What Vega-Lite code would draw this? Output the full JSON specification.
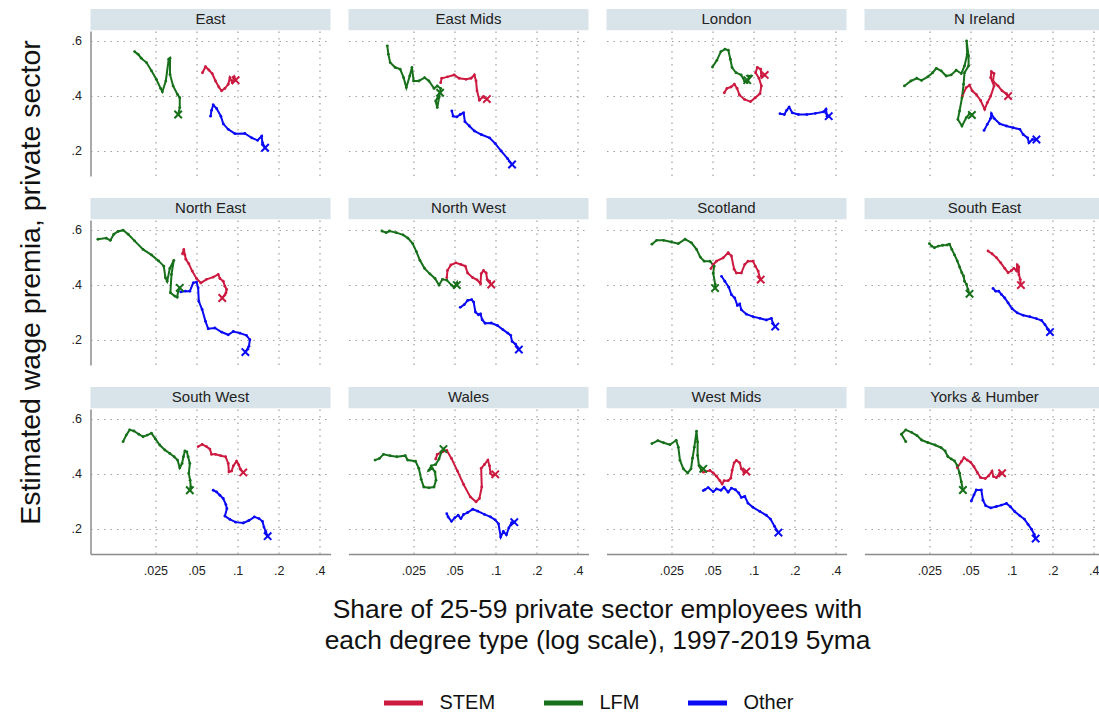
{
"$schema": "https://vega.github.io/schema/vega-lite/v6.json",
"padding": {"left": 16.5, "top": 8, "right": 2, "bottom": 2},
"background": "white",
"title": {"text": "Estimated wage premia, private sector", "orient": "left", "anchor": "middle", "fontSize": 28.5, "fontWeight": "normal", "color": "#111", "offset": 26, "dx": 78},
"config": {
  "font": "Liberation Sans",
  "view": {"stroke": null},
  "axis": {"ticks": false, "domainColor": "#8c8c8c", "domainWidth": 1.5, "gridColor": "#a0a0a0", "gridDash": [1.5, 5], "gridWidth": 1.2, "labelFontSize": 12.5, "labelColor": "#222", "titleFontWeight": "normal", "titleColor": "#111", "labelPadding": 9, "labelFlush": false},
  "legend": {"layout": {"bottom": {"anchor": "middle"}}}
},
"data": {"values": [
{"r":"East","t":"STEM","i":1,"x":0.0553,"y":0.484},{"r":"East","t":"STEM","i":2,"x":0.0582,"y":0.506},{"r":"East","t":"STEM","i":3,"x":0.0616,"y":0.494},{"r":"East","t":"STEM","i":4,"x":0.0652,"y":0.481},{"r":"East","t":"STEM","i":5,"x":0.0689,"y":0.454},{"r":"East","t":"STEM","i":6,"x":0.0729,"y":0.432},{"r":"East","t":"STEM","i":7,"x":0.0763,"y":0.418},{"r":"East","t":"STEM","i":8,"x":0.0807,"y":0.427},{"r":"East","t":"STEM","i":9,"x":0.0854,"y":0.442},{"r":"East","t":"STEM","i":10,"x":0.0878,"y":0.466},{"r":"East","t":"STEM","i":11,"x":0.0914,"y":0.448},{"r":"East","t":"STEM","i":12,"x":0.0945,"y":0.469},{"r":"East","t":"STEM","i":13,"x":0.0967,"y":0.457},
{"r":"East","t":"LFM","i":1,"x":0.0176,"y":0.561},{"r":"East","t":"LFM","i":2,"x":0.0187,"y":0.551},{"r":"East","t":"LFM","i":3,"x":0.0197,"y":0.537},{"r":"East","t":"LFM","i":4,"x":0.0215,"y":0.521},{"r":"East","t":"LFM","i":5,"x":0.0234,"y":0.491},{"r":"East","t":"LFM","i":6,"x":0.0254,"y":0.46},{"r":"East","t":"LFM","i":7,"x":0.0273,"y":0.427},{"r":"East","t":"LFM","i":8,"x":0.0281,"y":0.415},{"r":"East","t":"LFM","i":9,"x":0.0298,"y":0.454},{"r":"East","t":"LFM","i":10,"x":0.0313,"y":0.533},{"r":"East","t":"LFM","i":11,"x":0.032,"y":0.537},{"r":"East","t":"LFM","i":12,"x":0.032,"y":0.478},{"r":"East","t":"LFM","i":13,"x":0.0337,"y":0.436},{"r":"East","t":"LFM","i":14,"x":0.0363,"y":0.405},{"r":"East","t":"LFM","i":15,"x":0.0377,"y":0.393},{"r":"East","t":"LFM","i":16,"x":0.0377,"y":0.357},{"r":"East","t":"LFM","i":17,"x":0.0367,"y":0.332},
{"r":"East","t":"Other","i":1,"x":0.0634,"y":0.326},{"r":"East","t":"Other","i":2,"x":0.0644,"y":0.347},{"r":"East","t":"Other","i":3,"x":0.0663,"y":0.367},{"r":"East","t":"Other","i":4,"x":0.0701,"y":0.354},{"r":"East","t":"Other","i":5,"x":0.0754,"y":0.326},{"r":"East","t":"Other","i":6,"x":0.0785,"y":0.298},{"r":"East","t":"Other","i":7,"x":0.0854,"y":0.278},{"r":"East","t":"Other","i":8,"x":0.0956,"y":0.262},{"r":"East","t":"Other","i":9,"x":0.113,"y":0.263},{"r":"East","t":"Other","i":10,"x":0.127,"y":0.247},{"r":"East","t":"Other","i":11,"x":0.14,"y":0.238},{"r":"East","t":"Other","i":12,"x":0.15,"y":0.253},{"r":"East","t":"Other","i":13,"x":0.152,"y":0.229},{"r":"East","t":"Other","i":14,"x":0.159,"y":0.211},
{"r":"East Mids","t":"STEM","i":1,"x":0.0396,"y":0.448},{"r":"East Mids","t":"STEM","i":2,"x":0.0403,"y":0.464},{"r":"East Mids","t":"STEM","i":3,"x":0.0444,"y":0.469},{"r":"East Mids","t":"STEM","i":4,"x":0.0497,"y":0.476},{"r":"East Mids","t":"STEM","i":5,"x":0.0541,"y":0.464},{"r":"East Mids","t":"STEM","i":6,"x":0.0607,"y":0.46},{"r":"East Mids","t":"STEM","i":7,"x":0.0661,"y":0.464},{"r":"East Mids","t":"STEM","i":8,"x":0.0699,"y":0.476},{"r":"East Mids","t":"STEM","i":9,"x":0.0719,"y":0.454},{"r":"East Mids","t":"STEM","i":10,"x":0.0731,"y":0.418},{"r":"East Mids","t":"STEM","i":11,"x":0.0761,"y":0.384},{"r":"East Mids","t":"STEM","i":12,"x":0.0806,"y":0.396},{"r":"East Mids","t":"STEM","i":13,"x":0.0863,"y":0.388},
{"r":"East Mids","t":"LFM","i":1,"x":0.0161,"y":0.582},{"r":"East Mids","t":"LFM","i":2,"x":0.0164,"y":0.551},{"r":"East Mids","t":"LFM","i":3,"x":0.0169,"y":0.521},{"r":"East Mids","t":"LFM","i":4,"x":0.0184,"y":0.503},{"r":"East Mids","t":"LFM","i":5,"x":0.02,"y":0.497},{"r":"East Mids","t":"LFM","i":6,"x":0.0212,"y":0.466},{"r":"East Mids","t":"LFM","i":7,"x":0.0222,"y":0.43},{"r":"East Mids","t":"LFM","i":8,"x":0.0235,"y":0.472},{"r":"East Mids","t":"LFM","i":9,"x":0.0244,"y":0.503},{"r":"East Mids","t":"LFM","i":10,"x":0.0251,"y":0.454},{"r":"East Mids","t":"LFM","i":11,"x":0.0274,"y":0.454},{"r":"East Mids","t":"LFM","i":12,"x":0.0302,"y":0.466},{"r":"East Mids","t":"LFM","i":13,"x":0.0325,"y":0.454},{"r":"East Mids","t":"LFM","i":14,"x":0.0354,"y":0.427},{"r":"East Mids","t":"LFM","i":15,"x":0.0374,"y":0.436},{"r":"East Mids","t":"LFM","i":16,"x":0.0396,"y":0.427},{"r":"East Mids","t":"LFM","i":17,"x":0.0385,"y":0.393},{"r":"East Mids","t":"LFM","i":18,"x":0.0374,"y":0.357},{"r":"East Mids","t":"LFM","i":19,"x":0.0364,"y":0.381},{"r":"East Mids","t":"LFM","i":20,"x":0.0392,"y":0.411},
{"r":"East Mids","t":"Other","i":1,"x":0.0478,"y":0.345},{"r":"East Mids","t":"Other","i":2,"x":0.0489,"y":0.326},{"r":"East Mids","t":"Other","i":3,"x":0.052,"y":0.323},{"r":"East Mids","t":"Other","i":4,"x":0.0551,"y":0.332},{"r":"East Mids","t":"Other","i":5,"x":0.0583,"y":0.338},{"r":"East Mids","t":"Other","i":6,"x":0.0596,"y":0.306},{"r":"East Mids","t":"Other","i":7,"x":0.0642,"y":0.29},{"r":"East Mids","t":"Other","i":8,"x":0.0699,"y":0.272},{"r":"East Mids","t":"Other","i":9,"x":0.0784,"y":0.259},{"r":"East Mids","t":"Other","i":10,"x":0.0903,"y":0.247},{"r":"East Mids","t":"Other","i":11,"x":0.0994,"y":0.226},{"r":"East Mids","t":"Other","i":12,"x":0.11,"y":0.199},{"r":"East Mids","t":"Other","i":13,"x":0.122,"y":0.172},{"r":"East Mids","t":"Other","i":14,"x":0.132,"y":0.15},
{"r":"London","t":"STEM","i":1,"x":0.061,"y":0.411},{"r":"London","t":"STEM","i":2,"x":0.0638,"y":0.427},{"r":"London","t":"STEM","i":3,"x":0.0683,"y":0.432},{"r":"London","t":"STEM","i":4,"x":0.0723,"y":0.442},{"r":"London","t":"STEM","i":5,"x":0.0757,"y":0.427},{"r":"London","t":"STEM","i":6,"x":0.0788,"y":0.403},{"r":"London","t":"STEM","i":7,"x":0.0858,"y":0.387},{"r":"London","t":"STEM","i":8,"x":0.095,"y":0.379},{"r":"London","t":"STEM","i":9,"x":0.1029,"y":0.393},{"r":"London","t":"STEM","i":10,"x":0.1114,"y":0.408},{"r":"London","t":"STEM","i":11,"x":0.114,"y":0.436},{"r":"London","t":"STEM","i":12,"x":0.1095,"y":0.464},{"r":"London","t":"STEM","i":13,"x":0.1034,"y":0.484},{"r":"London","t":"STEM","i":14,"x":0.1065,"y":0.503},{"r":"London","t":"STEM","i":15,"x":0.1127,"y":0.497},{"r":"London","t":"STEM","i":16,"x":0.114,"y":0.472},{"r":"London","t":"STEM","i":17,"x":0.1206,"y":0.476},
{"r":"London","t":"LFM","i":1,"x":0.05,"y":0.505},{"r":"London","t":"LFM","i":2,"x":0.0538,"y":0.529},{"r":"London","t":"LFM","i":3,"x":0.0576,"y":0.561},{"r":"London","t":"LFM","i":4,"x":0.0617,"y":0.57},{"r":"London","t":"LFM","i":5,"x":0.0653,"y":0.566},{"r":"London","t":"LFM","i":6,"x":0.0676,"y":0.533},{"r":"London","t":"LFM","i":7,"x":0.0695,"y":0.503},{"r":"London","t":"LFM","i":8,"x":0.0744,"y":0.484},{"r":"London","t":"LFM","i":9,"x":0.081,"y":0.476},{"r":"London","t":"LFM","i":10,"x":0.0858,"y":0.454},{"r":"London","t":"LFM","i":11,"x":0.0898,"y":0.448},{"r":"London","t":"LFM","i":12,"x":0.0934,"y":0.466},{"r":"London","t":"LFM","i":13,"x":0.0908,"y":0.472},{"r":"London","t":"LFM","i":14,"x":0.0961,"y":0.472},{"r":"London","t":"LFM","i":15,"x":0.0898,"y":0.457},
{"r":"London","t":"Other","i":1,"x":0.156,"y":0.335},{"r":"London","t":"Other","i":2,"x":0.168,"y":0.332},{"r":"London","t":"Other","i":3,"x":0.1745,"y":0.347},{"r":"London","t":"Other","i":4,"x":0.182,"y":0.359},{"r":"London","t":"Other","i":5,"x":0.192,"y":0.338},{"r":"London","t":"Other","i":6,"x":0.213,"y":0.332},{"r":"London","t":"Other","i":7,"x":0.245,"y":0.332},{"r":"London","t":"Other","i":8,"x":0.283,"y":0.336},{"r":"London","t":"Other","i":9,"x":0.326,"y":0.342},{"r":"London","t":"Other","i":10,"x":0.339,"y":0.351},{"r":"London","t":"Other","i":11,"x":0.345,"y":0.326},{"r":"London","t":"Other","i":12,"x":0.355,"y":0.326},
{"r":"N Ireland","t":"STEM","i":1,"x":0.0435,"y":0.399},{"r":"N Ireland","t":"STEM","i":2,"x":0.0465,"y":0.43},{"r":"N Ireland","t":"STEM","i":3,"x":0.0492,"y":0.439},{"r":"N Ireland","t":"STEM","i":4,"x":0.0515,"y":0.418},{"r":"N Ireland","t":"STEM","i":5,"x":0.0551,"y":0.405},{"r":"N Ireland","t":"STEM","i":6,"x":0.0593,"y":0.383},{"r":"N Ireland","t":"STEM","i":7,"x":0.0635,"y":0.351},{"r":"N Ireland","t":"STEM","i":8,"x":0.0664,"y":0.375},{"r":"N Ireland","t":"STEM","i":9,"x":0.0703,"y":0.399},{"r":"N Ireland","t":"STEM","i":10,"x":0.0744,"y":0.436},{"r":"N Ireland","t":"STEM","i":11,"x":0.0703,"y":0.466},{"r":"N Ireland","t":"STEM","i":12,"x":0.0711,"y":0.488},{"r":"N Ireland","t":"STEM","i":13,"x":0.0744,"y":0.481},{"r":"N Ireland","t":"STEM","i":14,"x":0.0731,"y":0.454},{"r":"N Ireland","t":"STEM","i":15,"x":0.0796,"y":0.436},{"r":"N Ireland","t":"STEM","i":16,"x":0.0852,"y":0.418},{"r":"N Ireland","t":"STEM","i":17,"x":0.0917,"y":0.408},{"r":"N Ireland","t":"STEM","i":18,"x":0.0943,"y":0.399},
{"r":"N Ireland","t":"LFM","i":1,"x":0.0164,"y":0.436},{"r":"N Ireland","t":"LFM","i":2,"x":0.0183,"y":0.454},{"r":"N Ireland","t":"LFM","i":3,"x":0.0202,"y":0.464},{"r":"N Ireland","t":"LFM","i":4,"x":0.0219,"y":0.456},{"r":"N Ireland","t":"LFM","i":5,"x":0.0243,"y":0.469},{"r":"N Ireland","t":"LFM","i":6,"x":0.0264,"y":0.484},{"r":"N Ireland","t":"LFM","i":7,"x":0.0281,"y":0.5},{"r":"N Ireland","t":"LFM","i":8,"x":0.0305,"y":0.491},{"r":"N Ireland","t":"LFM","i":9,"x":0.0332,"y":0.472},{"r":"N Ireland","t":"LFM","i":10,"x":0.0361,"y":0.476},{"r":"N Ireland","t":"LFM","i":11,"x":0.0393,"y":0.493},{"r":"N Ireland","t":"LFM","i":12,"x":0.0428,"y":0.481},{"r":"N Ireland","t":"LFM","i":13,"x":0.0452,"y":0.509},{"r":"N Ireland","t":"LFM","i":14,"x":0.0473,"y":0.551},{"r":"N Ireland","t":"LFM","i":15,"x":0.0468,"y":0.6},{"r":"N Ireland","t":"LFM","i":16,"x":0.0484,"y":0.545},{"r":"N Ireland","t":"LFM","i":17,"x":0.0484,"y":0.509},{"r":"N Ireland","t":"LFM","i":18,"x":0.0452,"y":0.484},{"r":"N Ireland","t":"LFM","i":19,"x":0.0445,"y":0.442},{"r":"N Ireland","t":"LFM","i":20,"x":0.0433,"y":0.393},{"r":"N Ireland","t":"LFM","i":21,"x":0.0416,"y":0.345},{"r":"N Ireland","t":"LFM","i":22,"x":0.0404,"y":0.314},{"r":"N Ireland","t":"LFM","i":23,"x":0.0433,"y":0.29},{"r":"N Ireland","t":"LFM","i":24,"x":0.0465,"y":0.32},{"r":"N Ireland","t":"LFM","i":25,"x":0.0492,"y":0.335},{"r":"N Ireland","t":"LFM","i":26,"x":0.0512,"y":0.33},
{"r":"N Ireland","t":"Other","i":1,"x":0.0628,"y":0.274},{"r":"N Ireland","t":"Other","i":2,"x":0.0664,"y":0.296},{"r":"N Ireland","t":"Other","i":3,"x":0.0703,"y":0.318},{"r":"N Ireland","t":"Other","i":4,"x":0.0711,"y":0.335},{"r":"N Ireland","t":"Other","i":5,"x":0.0744,"y":0.318},{"r":"N Ireland","t":"Other","i":6,"x":0.0819,"y":0.298},{"r":"N Ireland","t":"Other","i":7,"x":0.0917,"y":0.29},{"r":"N Ireland","t":"Other","i":8,"x":0.1026,"y":0.284},{"r":"N Ireland","t":"Other","i":9,"x":0.115,"y":0.278},{"r":"N Ireland","t":"Other","i":10,"x":0.1216,"y":0.259},{"r":"N Ireland","t":"Other","i":11,"x":0.131,"y":0.247},{"r":"N Ireland","t":"Other","i":12,"x":0.134,"y":0.229},{"r":"N Ireland","t":"Other","i":13,"x":0.142,"y":0.241},{"r":"N Ireland","t":"Other","i":14,"x":0.152,"y":0.241},
{"r":"North East","t":"STEM","i":1,"x":0.0395,"y":0.513},{"r":"North East","t":"STEM","i":2,"x":0.0404,"y":0.529},{"r":"North East","t":"STEM","i":3,"x":0.0411,"y":0.509},{"r":"North East","t":"STEM","i":4,"x":0.0418,"y":0.493},{"r":"North East","t":"STEM","i":5,"x":0.0439,"y":0.477},{"r":"North East","t":"STEM","i":6,"x":0.0465,"y":0.45},{"r":"North East","t":"STEM","i":7,"x":0.05,"y":0.423},{"r":"North East","t":"STEM","i":8,"x":0.0538,"y":0.407},{"r":"North East","t":"STEM","i":9,"x":0.0592,"y":0.42},{"r":"North East","t":"STEM","i":10,"x":0.0663,"y":0.428},{"r":"North East","t":"STEM","i":11,"x":0.0721,"y":0.438},{"r":"North East","t":"STEM","i":12,"x":0.0742,"y":0.423},{"r":"North East","t":"STEM","i":13,"x":0.0785,"y":0.413},{"r":"North East","t":"STEM","i":14,"x":0.0807,"y":0.395},{"r":"North East","t":"STEM","i":15,"x":0.0831,"y":0.383},{"r":"North East","t":"STEM","i":16,"x":0.0822,"y":0.371},{"r":"North East","t":"STEM","i":17,"x":0.0772,"y":0.352},
{"r":"North East","t":"LFM","i":1,"x":0.00948,"y":0.566},{"r":"North East","t":"LFM","i":2,"x":0.0109,"y":0.57},{"r":"North East","t":"LFM","i":3,"x":0.0117,"y":0.562},{"r":"North East","t":"LFM","i":4,"x":0.0124,"y":0.584},{"r":"North East","t":"LFM","i":5,"x":0.0133,"y":0.594},{"r":"North East","t":"LFM","i":6,"x":0.0145,"y":0.599},{"r":"North East","t":"LFM","i":7,"x":0.0158,"y":0.584},{"r":"North East","t":"LFM","i":8,"x":0.0176,"y":0.56},{"r":"North East","t":"LFM","i":9,"x":0.0203,"y":0.529},{"r":"North East","t":"LFM","i":10,"x":0.0234,"y":0.509},{"r":"North East","t":"LFM","i":11,"x":0.0264,"y":0.487},{"r":"North East","t":"LFM","i":12,"x":0.0288,"y":0.468},{"r":"North East","t":"LFM","i":13,"x":0.0296,"y":0.426},{"r":"North East","t":"LFM","i":14,"x":0.0305,"y":0.413},{"r":"North East","t":"LFM","i":15,"x":0.0319,"y":0.46},{"r":"North East","t":"LFM","i":16,"x":0.0341,"y":0.489},{"r":"North East","t":"LFM","i":17,"x":0.0328,"y":0.438},{"r":"North East","t":"LFM","i":18,"x":0.0322,"y":0.371},{"r":"North East","t":"LFM","i":19,"x":0.0347,"y":0.359},{"r":"North East","t":"LFM","i":20,"x":0.0361,"y":0.355},{"r":"North East","t":"LFM","i":21,"x":0.0367,"y":0.377},{"r":"North East","t":"LFM","i":22,"x":0.0377,"y":0.389},
{"r":"North East","t":"Other","i":1,"x":0.0384,"y":0.374},{"r":"North East","t":"Other","i":2,"x":0.0415,"y":0.377},{"r":"North East","t":"Other","i":3,"x":0.0447,"y":0.377},{"r":"North East","t":"Other","i":4,"x":0.0473,"y":0.407},{"r":"North East","t":"Other","i":5,"x":0.05,"y":0.41},{"r":"North East","t":"Other","i":6,"x":0.0514,"y":0.389},{"r":"North East","t":"Other","i":7,"x":0.052,"y":0.34},{"r":"North East","t":"Other","i":8,"x":0.055,"y":0.31},{"r":"North East","t":"Other","i":9,"x":0.0582,"y":0.267},{"r":"North East","t":"Other","i":10,"x":0.0609,"y":0.24},{"r":"North East","t":"Other","i":11,"x":0.0682,"y":0.243},{"r":"North East","t":"Other","i":12,"x":0.0763,"y":0.228},{"r":"North East","t":"Other","i":13,"x":0.0854,"y":0.218},{"r":"North East","t":"Other","i":14,"x":0.093,"y":0.23},{"r":"North East","t":"Other","i":15,"x":0.104,"y":0.224},{"r":"North East","t":"Other","i":16,"x":0.116,"y":0.216},{"r":"North East","t":"Other","i":17,"x":0.123,"y":0.2},{"r":"North East","t":"Other","i":18,"x":0.121,"y":0.176},{"r":"North East","t":"Other","i":19,"x":0.114,"y":0.155},
{"r":"North West","t":"STEM","i":1,"x":0.0439,"y":0.426},{"r":"North West","t":"STEM","i":2,"x":0.0444,"y":0.452},{"r":"North West","t":"STEM","i":3,"x":0.047,"y":0.472},{"r":"North West","t":"STEM","i":4,"x":0.0512,"y":0.48},{"r":"North West","t":"STEM","i":5,"x":0.0557,"y":0.474},{"r":"North West","t":"STEM","i":6,"x":0.06,"y":0.468},{"r":"North West","t":"STEM","i":7,"x":0.0624,"y":0.443},{"r":"North West","t":"STEM","i":8,"x":0.068,"y":0.426},{"r":"North West","t":"STEM","i":9,"x":0.0731,"y":0.418},{"r":"North West","t":"STEM","i":10,"x":0.0775,"y":0.404},{"r":"North West","t":"STEM","i":11,"x":0.0784,"y":0.441},{"r":"North West","t":"STEM","i":12,"x":0.0815,"y":0.452},{"r":"North West","t":"STEM","i":13,"x":0.0853,"y":0.443},{"r":"North West","t":"STEM","i":14,"x":0.0868,"y":0.419},{"r":"North West","t":"STEM","i":15,"x":0.0903,"y":0.413},{"r":"North West","t":"STEM","i":16,"x":0.0929,"y":0.401},
{"r":"North West","t":"LFM","i":1,"x":0.0147,"y":0.596},{"r":"North West","t":"LFM","i":2,"x":0.0158,"y":0.59},{"r":"North West","t":"LFM","i":3,"x":0.0167,"y":0.596},{"r":"North West","t":"LFM","i":4,"x":0.0187,"y":0.59},{"r":"North West","t":"LFM","i":5,"x":0.021,"y":0.582},{"r":"North West","t":"LFM","i":6,"x":0.0228,"y":0.57},{"r":"North West","t":"LFM","i":7,"x":0.0247,"y":0.55},{"r":"North West","t":"LFM","i":8,"x":0.0263,"y":0.521},{"r":"North West","t":"LFM","i":9,"x":0.0279,"y":0.489},{"r":"North West","t":"LFM","i":10,"x":0.0302,"y":0.46},{"r":"North West","t":"LFM","i":11,"x":0.033,"y":0.44},{"r":"North West","t":"LFM","i":12,"x":0.036,"y":0.423},{"r":"North West","t":"LFM","i":13,"x":0.0385,"y":0.399},{"r":"North West","t":"LFM","i":14,"x":0.0408,"y":0.42},{"r":"North West","t":"LFM","i":15,"x":0.0439,"y":0.417},{"r":"North West","t":"LFM","i":16,"x":0.0475,"y":0.399},{"r":"North West","t":"LFM","i":17,"x":0.0497,"y":0.391},{"r":"North West","t":"LFM","i":18,"x":0.052,"y":0.407},{"r":"North West","t":"LFM","i":19,"x":0.052,"y":0.399},
{"r":"North West","t":"Other","i":1,"x":0.0551,"y":0.318},{"r":"North West","t":"Other","i":2,"x":0.059,"y":0.328},{"r":"North West","t":"Other","i":3,"x":0.0624,"y":0.343},{"r":"North West","t":"Other","i":4,"x":0.0668,"y":0.346},{"r":"North West","t":"Other","i":5,"x":0.0691,"y":0.337},{"r":"North West","t":"Other","i":6,"x":0.0711,"y":0.301},{"r":"North West","t":"Other","i":7,"x":0.0749,"y":0.291},{"r":"North West","t":"Other","i":8,"x":0.0775,"y":0.294},{"r":"North West","t":"Other","i":9,"x":0.0797,"y":0.273},{"r":"North West","t":"Other","i":10,"x":0.0838,"y":0.26},{"r":"North West","t":"Other","i":11,"x":0.0929,"y":0.261},{"r":"North West","t":"Other","i":12,"x":0.103,"y":0.252},{"r":"North West","t":"Other","i":13,"x":0.113,"y":0.237},{"r":"North West","t":"Other","i":14,"x":0.123,"y":0.224},{"r":"North West","t":"Other","i":15,"x":0.129,"y":0.216},{"r":"North West","t":"Other","i":16,"x":0.132,"y":0.194},{"r":"North West","t":"Other","i":17,"x":0.14,"y":0.184},{"r":"North West","t":"Other","i":18,"x":0.146,"y":0.17},{"r":"North West","t":"Other","i":19,"x":0.148,"y":0.164},
{"r":"Scotland","t":"STEM","i":1,"x":0.0487,"y":0.459},{"r":"Scotland","t":"STEM","i":2,"x":0.0506,"y":0.474},{"r":"Scotland","t":"STEM","i":3,"x":0.0535,"y":0.486},{"r":"Scotland","t":"STEM","i":4,"x":0.0598,"y":0.498},{"r":"Scotland","t":"STEM","i":5,"x":0.0651,"y":0.517},{"r":"Scotland","t":"STEM","i":6,"x":0.0688,"y":0.505},{"r":"Scotland","t":"STEM","i":7,"x":0.072,"y":0.457},{"r":"Scotland","t":"STEM","i":8,"x":0.0748,"y":0.443},{"r":"Scotland","t":"STEM","i":9,"x":0.0813,"y":0.443},{"r":"Scotland","t":"STEM","i":10,"x":0.0861,"y":0.474},{"r":"Scotland","t":"STEM","i":11,"x":0.091,"y":0.486},{"r":"Scotland","t":"STEM","i":12,"x":0.099,"y":0.486},{"r":"Scotland","t":"STEM","i":13,"x":0.103,"y":0.468},{"r":"Scotland","t":"STEM","i":14,"x":0.108,"y":0.45},{"r":"Scotland","t":"STEM","i":15,"x":0.111,"y":0.425},{"r":"Scotland","t":"STEM","i":16,"x":0.1127,"y":0.419},
{"r":"Scotland","t":"LFM","i":1,"x":0.018,"y":0.548},{"r":"Scotland","t":"LFM","i":2,"x":0.0195,"y":0.562},{"r":"Scotland","t":"LFM","i":3,"x":0.0219,"y":0.562},{"r":"Scotland","t":"LFM","i":4,"x":0.025,"y":0.556},{"r":"Scotland","t":"LFM","i":5,"x":0.0281,"y":0.55},{"r":"Scotland","t":"LFM","i":6,"x":0.0315,"y":0.566},{"r":"Scotland","t":"LFM","i":7,"x":0.0351,"y":0.553},{"r":"Scotland","t":"LFM","i":8,"x":0.0382,"y":0.529},{"r":"Scotland","t":"LFM","i":9,"x":0.0407,"y":0.501},{"r":"Scotland","t":"LFM","i":10,"x":0.0435,"y":0.486},{"r":"Scotland","t":"LFM","i":11,"x":0.0479,"y":0.486},{"r":"Scotland","t":"LFM","i":12,"x":0.0514,"y":0.468},{"r":"Scotland","t":"LFM","i":13,"x":0.0506,"y":0.442},{"r":"Scotland","t":"LFM","i":14,"x":0.0523,"y":0.402},{"r":"Scotland","t":"LFM","i":15,"x":0.0522,"y":0.388},
{"r":"Scotland","t":"Other","i":1,"x":0.0582,"y":0.431},{"r":"Scotland","t":"Other","i":2,"x":0.0616,"y":0.413},{"r":"Scotland","t":"Other","i":3,"x":0.0658,"y":0.391},{"r":"Scotland","t":"Other","i":4,"x":0.0688,"y":0.364},{"r":"Scotland","t":"Other","i":5,"x":0.0728,"y":0.352},{"r":"Scotland","t":"Other","i":6,"x":0.0761,"y":0.325},{"r":"Scotland","t":"Other","i":7,"x":0.0792,"y":0.33},{"r":"Scotland","t":"Other","i":8,"x":0.0813,"y":0.309},{"r":"Scotland","t":"Other","i":9,"x":0.0885,"y":0.293},{"r":"Scotland","t":"Other","i":10,"x":0.099,"y":0.284},{"r":"Scotland","t":"Other","i":11,"x":0.111,"y":0.278},{"r":"Scotland","t":"Other","i":12,"x":0.124,"y":0.272},{"r":"Scotland","t":"Other","i":13,"x":0.135,"y":0.278},{"r":"Scotland","t":"Other","i":14,"x":0.1385,"y":0.26},{"r":"Scotland","t":"Other","i":15,"x":0.144,"y":0.248},
{"r":"South East","t":"STEM","i":1,"x":0.0672,"y":0.523},{"r":"South East","t":"STEM","i":2,"x":0.0719,"y":0.513},{"r":"South East","t":"STEM","i":3,"x":0.0774,"y":0.499},{"r":"South East","t":"STEM","i":4,"x":0.0833,"y":0.48},{"r":"South East","t":"STEM","i":5,"x":0.0891,"y":0.46},{"r":"South East","t":"STEM","i":6,"x":0.0943,"y":0.444},{"r":"South East","t":"STEM","i":7,"x":0.0998,"y":0.452},{"r":"South East","t":"STEM","i":8,"x":0.104,"y":0.46},{"r":"South East","t":"STEM","i":9,"x":0.109,"y":0.45},{"r":"South East","t":"STEM","i":10,"x":0.11,"y":0.472},{"r":"South East","t":"STEM","i":11,"x":0.113,"y":0.465},{"r":"South East","t":"STEM","i":12,"x":0.113,"y":0.438},{"r":"South East","t":"STEM","i":13,"x":0.1156,"y":0.42},{"r":"South East","t":"STEM","i":14,"x":0.117,"y":0.399},
{"r":"South East","t":"LFM","i":1,"x":0.025,"y":0.55},{"r":"South East","t":"LFM","i":2,"x":0.026,"y":0.541},{"r":"South East","t":"LFM","i":3,"x":0.0272,"y":0.535},{"r":"South East","t":"LFM","i":4,"x":0.0291,"y":0.541},{"r":"South East","t":"LFM","i":5,"x":0.0313,"y":0.544},{"r":"South East","t":"LFM","i":6,"x":0.0337,"y":0.545},{"r":"South East","t":"LFM","i":7,"x":0.0351,"y":0.548},{"r":"South East","t":"LFM","i":8,"x":0.0365,"y":0.529},{"r":"South East","t":"LFM","i":9,"x":0.0382,"y":0.509},{"r":"South East","t":"LFM","i":10,"x":0.04,"y":0.487},{"r":"South East","t":"LFM","i":11,"x":0.0416,"y":0.465},{"r":"South East","t":"LFM","i":12,"x":0.0432,"y":0.444},{"r":"South East","t":"LFM","i":13,"x":0.0445,"y":0.432},{"r":"South East","t":"LFM","i":14,"x":0.0452,"y":0.413},{"r":"South East","t":"LFM","i":15,"x":0.0468,"y":0.401},{"r":"South East","t":"LFM","i":16,"x":0.0479,"y":0.383},{"r":"South East","t":"LFM","i":17,"x":0.0492,"y":0.367},
{"r":"South East","t":"Other","i":1,"x":0.0731,"y":0.387},{"r":"South East","t":"Other","i":2,"x":0.0765,"y":0.377},{"r":"South East","t":"Other","i":3,"x":0.0805,"y":0.377},{"r":"South East","t":"Other","i":4,"x":0.0842,"y":0.365},{"r":"South East","t":"Other","i":5,"x":0.0891,"y":0.352},{"r":"South East","t":"Other","i":6,"x":0.0943,"y":0.334},{"r":"South East","t":"Other","i":7,"x":0.1009,"y":0.313},{"r":"South East","t":"Other","i":8,"x":0.11,"y":0.298},{"r":"South East","t":"Other","i":9,"x":0.1216,"y":0.289},{"r":"South East","t":"Other","i":10,"x":0.136,"y":0.284},{"r":"South East","t":"Other","i":11,"x":0.152,"y":0.277},{"r":"South East","t":"Other","i":12,"x":0.166,"y":0.27},{"r":"South East","t":"Other","i":13,"x":0.1755,"y":0.255},{"r":"South East","t":"Other","i":14,"x":0.186,"y":0.237},{"r":"South East","t":"Other","i":15,"x":0.191,"y":0.228},
{"r":"South West","t":"STEM","i":1,"x":0.0514,"y":0.499},{"r":"South West","t":"STEM","i":2,"x":0.055,"y":0.507},{"r":"South West","t":"STEM","i":3,"x":0.0592,"y":0.499},{"r":"South West","t":"STEM","i":4,"x":0.0627,"y":0.49},{"r":"South West","t":"STEM","i":5,"x":0.0644,"y":0.471},{"r":"South West","t":"STEM","i":6,"x":0.0689,"y":0.471},{"r":"South West","t":"STEM","i":7,"x":0.0754,"y":0.466},{"r":"South West","t":"STEM","i":8,"x":0.0817,"y":0.462},{"r":"South West","t":"STEM","i":9,"x":0.0854,"y":0.438},{"r":"South West","t":"STEM","i":10,"x":0.0864,"y":0.407},{"r":"South West","t":"STEM","i":11,"x":0.0904,"y":0.41},{"r":"South West","t":"STEM","i":12,"x":0.093,"y":0.429},{"r":"South West","t":"STEM","i":13,"x":0.0983,"y":0.446},{"r":"South West","t":"STEM","i":14,"x":0.102,"y":0.432},{"r":"South West","t":"STEM","i":15,"x":0.105,"y":0.417},{"r":"South West","t":"STEM","i":16,"x":0.11,"y":0.405},
{"r":"South West","t":"LFM","i":1,"x":0.0145,"y":0.517},{"r":"South West","t":"LFM","i":2,"x":0.0153,"y":0.541},{"r":"South West","t":"LFM","i":3,"x":0.0162,"y":0.56},{"r":"South West","t":"LFM","i":4,"x":0.0174,"y":0.556},{"r":"South West","t":"LFM","i":5,"x":0.0189,"y":0.544},{"r":"South West","t":"LFM","i":6,"x":0.0203,"y":0.535},{"r":"South West","t":"LFM","i":7,"x":0.0218,"y":0.541},{"r":"South West","t":"LFM","i":8,"x":0.0234,"y":0.548},{"r":"South West","t":"LFM","i":9,"x":0.025,"y":0.527},{"r":"South West","t":"LFM","i":10,"x":0.0269,"y":0.505},{"r":"South West","t":"LFM","i":11,"x":0.0293,"y":0.487},{"r":"South West","t":"LFM","i":12,"x":0.0319,"y":0.474},{"r":"South West","t":"LFM","i":13,"x":0.0343,"y":0.462},{"r":"South West","t":"LFM","i":14,"x":0.0363,"y":0.45},{"r":"South West","t":"LFM","i":15,"x":0.0377,"y":0.422},{"r":"South West","t":"LFM","i":16,"x":0.0392,"y":0.438},{"r":"South West","t":"LFM","i":17,"x":0.0401,"y":0.462},{"r":"South West","t":"LFM","i":18,"x":0.0411,"y":0.483},{"r":"South West","t":"LFM","i":19,"x":0.0425,"y":0.48},{"r":"South West","t":"LFM","i":20,"x":0.0434,"y":0.462},{"r":"South West","t":"LFM","i":21,"x":0.0447,"y":0.438},{"r":"South West","t":"LFM","i":22,"x":0.0439,"y":0.401},{"r":"South West","t":"LFM","i":23,"x":0.0449,"y":0.377},{"r":"South West","t":"LFM","i":24,"x":0.0454,"y":0.352},{"r":"South West","t":"LFM","i":25,"x":0.0447,"y":0.34},
{"r":"South West","t":"Other","i":1,"x":0.0663,"y":0.34},{"r":"South West","t":"Other","i":2,"x":0.0701,"y":0.334},{"r":"South West","t":"Other","i":3,"x":0.0742,"y":0.322},{"r":"South West","t":"Other","i":4,"x":0.0785,"y":0.31},{"r":"South West","t":"Other","i":5,"x":0.0821,"y":0.288},{"r":"South West","t":"Other","i":6,"x":0.0835,"y":0.273},{"r":"South West","t":"Other","i":7,"x":0.0807,"y":0.246},{"r":"South West","t":"Other","i":8,"x":0.0879,"y":0.234},{"r":"South West","t":"Other","i":9,"x":0.0967,"y":0.224},{"r":"South West","t":"Other","i":10,"x":0.11,"y":0.221},{"r":"South West","t":"Other","i":11,"x":0.121,"y":0.23},{"r":"South West","t":"Other","i":12,"x":0.1326,"y":0.243},{"r":"South West","t":"Other","i":13,"x":0.1435,"y":0.237},{"r":"South West","t":"Other","i":14,"x":0.152,"y":0.227},{"r":"South West","t":"Other","i":15,"x":0.156,"y":0.206},{"r":"South West","t":"Other","i":16,"x":0.1606,"y":0.19},{"r":"South West","t":"Other","i":17,"x":0.166,"y":0.173},
{"r":"Wales","t":"STEM","i":1,"x":0.0364,"y":0.454},{"r":"Wales","t":"STEM","i":2,"x":0.0374,"y":0.471},{"r":"Wales","t":"STEM","i":3,"x":0.0408,"y":0.48},{"r":"Wales","t":"STEM","i":4,"x":0.0439,"y":0.485},{"r":"Wales","t":"STEM","i":5,"x":0.0475,"y":0.456},{"r":"Wales","t":"STEM","i":6,"x":0.0526,"y":0.41},{"r":"Wales","t":"STEM","i":7,"x":0.0583,"y":0.361},{"r":"Wales","t":"STEM","i":8,"x":0.0653,"y":0.316},{"r":"Wales","t":"STEM","i":9,"x":0.0719,"y":0.298},{"r":"Wales","t":"STEM","i":10,"x":0.0761,"y":0.31},{"r":"Wales","t":"STEM","i":11,"x":0.0792,"y":0.352},{"r":"Wales","t":"STEM","i":12,"x":0.0784,"y":0.42},{"r":"Wales","t":"STEM","i":13,"x":0.0829,"y":0.434},{"r":"Wales","t":"STEM","i":14,"x":0.0878,"y":0.45},{"r":"Wales","t":"STEM","i":15,"x":0.0903,"y":0.429},{"r":"Wales","t":"STEM","i":16,"x":0.0918,"y":0.401},{"r":"Wales","t":"STEM","i":17,"x":0.0956,"y":0.393},{"r":"Wales","t":"STEM","i":18,"x":0.0994,"y":0.398},
{"r":"Wales","t":"LFM","i":1,"x":0.0131,"y":0.45},{"r":"Wales","t":"LFM","i":2,"x":0.0141,"y":0.456},{"r":"Wales","t":"LFM","i":3,"x":0.0151,"y":0.471},{"r":"Wales","t":"LFM","i":4,"x":0.0169,"y":0.466},{"r":"Wales","t":"LFM","i":5,"x":0.0189,"y":0.462},{"r":"Wales","t":"LFM","i":6,"x":0.0218,"y":0.466},{"r":"Wales","t":"LFM","i":7,"x":0.0227,"y":0.45},{"r":"Wales","t":"LFM","i":8,"x":0.0259,"y":0.446},{"r":"Wales","t":"LFM","i":9,"x":0.0274,"y":0.42},{"r":"Wales","t":"LFM","i":10,"x":0.0285,"y":0.38},{"r":"Wales","t":"LFM","i":11,"x":0.0298,"y":0.352},{"r":"Wales","t":"LFM","i":12,"x":0.0325,"y":0.349},{"r":"Wales","t":"LFM","i":13,"x":0.0354,"y":0.352},{"r":"Wales","t":"LFM","i":14,"x":0.0366,"y":0.377},{"r":"Wales","t":"LFM","i":15,"x":0.036,"y":0.407},{"r":"Wales","t":"LFM","i":16,"x":0.0344,"y":0.42},{"r":"Wales","t":"LFM","i":17,"x":0.0325,"y":0.413},{"r":"Wales","t":"LFM","i":18,"x":0.0338,"y":0.429},{"r":"Wales","t":"LFM","i":19,"x":0.0364,"y":0.434},{"r":"Wales","t":"LFM","i":20,"x":0.0385,"y":0.454},{"r":"Wales","t":"LFM","i":21,"x":0.0401,"y":0.48},{"r":"Wales","t":"LFM","i":22,"x":0.0415,"y":0.49},
{"r":"Wales","t":"Other","i":1,"x":0.0439,"y":0.255},{"r":"Wales","t":"Other","i":2,"x":0.0449,"y":0.243},{"r":"Wales","t":"Other","i":3,"x":0.0475,"y":0.227},{"r":"Wales","t":"Other","i":4,"x":0.0503,"y":0.24},{"r":"Wales","t":"Other","i":5,"x":0.0532,"y":0.249},{"r":"Wales","t":"Other","i":6,"x":0.0557,"y":0.237},{"r":"Wales","t":"Other","i":7,"x":0.0583,"y":0.252},{"r":"Wales","t":"Other","i":8,"x":0.0624,"y":0.259},{"r":"Wales","t":"Other","i":9,"x":0.068,"y":0.271},{"r":"Wales","t":"Other","i":10,"x":0.074,"y":0.264},{"r":"Wales","t":"Other","i":11,"x":0.0829,"y":0.252},{"r":"Wales","t":"Other","i":12,"x":0.0918,"y":0.243},{"r":"Wales","t":"Other","i":13,"x":0.0994,"y":0.232},{"r":"Wales","t":"Other","i":14,"x":0.105,"y":0.218},{"r":"Wales","t":"Other","i":15,"x":0.109,"y":0.17},{"r":"Wales","t":"Other","i":16,"x":0.114,"y":0.19},{"r":"Wales","t":"Other","i":17,"x":0.12,"y":0.178},{"r":"Wales","t":"Other","i":18,"x":0.125,"y":0.203},{"r":"Wales","t":"Other","i":19,"x":0.131,"y":0.222},{"r":"Wales","t":"Other","i":20,"x":0.137,"y":0.224},
{"r":"West Mids","t":"STEM","i":1,"x":0.0428,"y":0.406},{"r":"West Mids","t":"STEM","i":2,"x":0.044,"y":0.408},{"r":"West Mids","t":"STEM","i":3,"x":0.0479,"y":0.412},{"r":"West Mids","t":"STEM","i":4,"x":0.0506,"y":0.403},{"r":"West Mids","t":"STEM","i":5,"x":0.0535,"y":0.391},{"r":"West Mids","t":"STEM","i":6,"x":0.0566,"y":0.375},{"r":"West Mids","t":"STEM","i":7,"x":0.0588,"y":0.363},{"r":"West Mids","t":"STEM","i":8,"x":0.0608,"y":0.375},{"r":"West Mids","t":"STEM","i":9,"x":0.0651,"y":0.375},{"r":"West Mids","t":"STEM","i":10,"x":0.0681,"y":0.384},{"r":"West Mids","t":"STEM","i":11,"x":0.0696,"y":0.412},{"r":"West Mids","t":"STEM","i":12,"x":0.072,"y":0.44},{"r":"West Mids","t":"STEM","i":13,"x":0.0748,"y":0.449},{"r":"West Mids","t":"STEM","i":14,"x":0.0792,"y":0.44},{"r":"West Mids","t":"STEM","i":15,"x":0.0813,"y":0.418},{"r":"West Mids","t":"STEM","i":16,"x":0.0851,"y":0.406},{"r":"West Mids","t":"STEM","i":17,"x":0.0885,"y":0.408},
{"r":"West Mids","t":"LFM","i":1,"x":0.018,"y":0.51},{"r":"West Mids","t":"LFM","i":2,"x":0.0199,"y":0.521},{"r":"West Mids","t":"LFM","i":3,"x":0.0219,"y":0.513},{"r":"West Mids","t":"LFM","i":4,"x":0.0244,"y":0.506},{"r":"West Mids","t":"LFM","i":5,"x":0.0271,"y":0.522},{"r":"West Mids","t":"LFM","i":6,"x":0.0281,"y":0.497},{"r":"West Mids","t":"LFM","i":7,"x":0.0289,"y":0.449},{"r":"West Mids","t":"LFM","i":8,"x":0.0306,"y":0.418},{"r":"West Mids","t":"LFM","i":9,"x":0.0329,"y":0.403},{"r":"West Mids","t":"LFM","i":10,"x":0.0348,"y":0.418},{"r":"West Mids","t":"LFM","i":11,"x":0.0357,"y":0.457},{"r":"West Mids","t":"LFM","i":12,"x":0.0368,"y":0.497},{"r":"West Mids","t":"LFM","i":13,"x":0.0382,"y":0.555},{"r":"West Mids","t":"LFM","i":14,"x":0.0389,"y":0.516},{"r":"West Mids","t":"LFM","i":15,"x":0.0389,"y":0.467},{"r":"West Mids","t":"LFM","i":16,"x":0.0398,"y":0.43},{"r":"West Mids","t":"LFM","i":17,"x":0.0416,"y":0.412},{"r":"West Mids","t":"LFM","i":18,"x":0.0428,"y":0.418},
{"r":"West Mids","t":"Other","i":1,"x":0.0428,"y":0.339},{"r":"West Mids","t":"Other","i":2,"x":0.044,"y":0.342},{"r":"West Mids","t":"Other","i":3,"x":0.0465,"y":0.35},{"r":"West Mids","t":"Other","i":4,"x":0.0506,"y":0.335},{"r":"West Mids","t":"Other","i":5,"x":0.0535,"y":0.345},{"r":"West Mids","t":"Other","i":6,"x":0.0576,"y":0.34},{"r":"West Mids","t":"Other","i":7,"x":0.0608,"y":0.351},{"r":"West Mids","t":"Other","i":8,"x":0.0651,"y":0.333},{"r":"West Mids","t":"Other","i":9,"x":0.0688,"y":0.348},{"r":"West Mids","t":"Other","i":10,"x":0.0736,"y":0.342},{"r":"West Mids","t":"Other","i":11,"x":0.0779,"y":0.33},{"r":"West Mids","t":"Other","i":12,"x":0.0813,"y":0.314},{"r":"West Mids","t":"Other","i":13,"x":0.0861,"y":0.318},{"r":"West Mids","t":"Other","i":14,"x":0.091,"y":0.293},{"r":"West Mids","t":"Other","i":15,"x":0.099,"y":0.278},{"r":"West Mids","t":"Other","i":16,"x":0.111,"y":0.263},{"r":"West Mids","t":"Other","i":17,"x":0.124,"y":0.249},{"r":"West Mids","t":"Other","i":18,"x":0.133,"y":0.235},{"r":"West Mids","t":"Other","i":19,"x":0.1425,"y":0.208},{"r":"West Mids","t":"Other","i":20,"x":0.152,"y":0.186},
{"r":"Yorks & Humber","t":"STEM","i":1,"x":0.04,"y":0.422},{"r":"Yorks & Humber","t":"STEM","i":2,"x":0.0428,"y":0.444},{"r":"Yorks & Humber","t":"STEM","i":3,"x":0.0448,"y":0.459},{"r":"Yorks & Humber","t":"STEM","i":4,"x":0.0473,"y":0.45},{"r":"Yorks & Humber","t":"STEM","i":5,"x":0.0501,"y":0.442},{"r":"Yorks & Humber","t":"STEM","i":6,"x":0.053,"y":0.426},{"r":"Yorks & Humber","t":"STEM","i":7,"x":0.0561,"y":0.405},{"r":"Yorks & Humber","t":"STEM","i":8,"x":0.0593,"y":0.386},{"r":"Yorks & Humber","t":"STEM","i":9,"x":0.0642,"y":0.383},{"r":"Yorks & Humber","t":"STEM","i":10,"x":0.068,"y":0.393},{"r":"Yorks & Humber","t":"STEM","i":11,"x":0.0719,"y":0.41},{"r":"Yorks & Humber","t":"STEM","i":12,"x":0.0736,"y":0.39},{"r":"Yorks & Humber","t":"STEM","i":13,"x":0.0774,"y":0.386},{"r":"Yorks & Humber","t":"STEM","i":14,"x":0.0819,"y":0.402},{"r":"Yorks & Humber","t":"STEM","i":15,"x":0.0852,"y":0.402},
{"r":"Yorks & Humber","t":"LFM","i":1,"x":0.0168,"y":0.517},{"r":"Yorks & Humber","t":"LFM","i":2,"x":0.0156,"y":0.544},{"r":"Yorks & Humber","t":"LFM","i":3,"x":0.0168,"y":0.56},{"r":"Yorks & Humber","t":"LFM","i":4,"x":0.0185,"y":0.551},{"r":"Yorks & Humber","t":"LFM","i":5,"x":0.0203,"y":0.539},{"r":"Yorks & Humber","t":"LFM","i":6,"x":0.0219,"y":0.523},{"r":"Yorks & Humber","t":"LFM","i":7,"x":0.0243,"y":0.514},{"r":"Yorks & Humber","t":"LFM","i":8,"x":0.0275,"y":0.505},{"r":"Yorks & Humber","t":"LFM","i":9,"x":0.0305,"y":0.495},{"r":"Yorks & Humber","t":"LFM","i":10,"x":0.0326,"y":0.483},{"r":"Yorks & Humber","t":"LFM","i":11,"x":0.0341,"y":0.463},{"r":"Yorks & Humber","t":"LFM","i":12,"x":0.0361,"y":0.454},{"r":"Yorks & Humber","t":"LFM","i":13,"x":0.0382,"y":0.447},{"r":"Yorks & Humber","t":"LFM","i":14,"x":0.04,"y":0.43},{"r":"Yorks & Humber","t":"LFM","i":15,"x":0.0416,"y":0.402},{"r":"Yorks & Humber","t":"LFM","i":16,"x":0.0428,"y":0.371},{"r":"Yorks & Humber","t":"LFM","i":17,"x":0.044,"y":0.341},
{"r":"Yorks & Humber","t":"Other","i":1,"x":0.0507,"y":0.301},{"r":"Yorks & Humber","t":"Other","i":2,"x":0.053,"y":0.323},{"r":"Yorks & Humber","t":"Other","i":3,"x":0.0551,"y":0.341},{"r":"Yorks & Humber","t":"Other","i":4,"x":0.06,"y":0.341},{"r":"Yorks & Humber","t":"Other","i":5,"x":0.0617,"y":0.304},{"r":"Yorks & Humber","t":"Other","i":6,"x":0.0646,"y":0.284},{"r":"Yorks & Humber","t":"Other","i":7,"x":0.0703,"y":0.276},{"r":"Yorks & Humber","t":"Other","i":8,"x":0.0774,"y":0.281},{"r":"Yorks & Humber","t":"Other","i":9,"x":0.0842,"y":0.286},{"r":"Yorks & Humber","t":"Other","i":10,"x":0.0917,"y":0.292},{"r":"Yorks & Humber","t":"Other","i":11,"x":0.098,"y":0.28},{"r":"Yorks & Humber","t":"Other","i":12,"x":0.1056,"y":0.262},{"r":"Yorks & Humber","t":"Other","i":13,"x":0.115,"y":0.247},{"r":"Yorks & Humber","t":"Other","i":14,"x":0.124,"y":0.235},{"r":"Yorks & Humber","t":"Other","i":15,"x":0.132,"y":0.216},{"r":"Yorks & Humber","t":"Other","i":16,"x":0.14,"y":0.198},{"r":"Yorks & Humber","t":"Other","i":17,"x":0.1465,"y":0.179},{"r":"Yorks & Humber","t":"Other","i":18,"x":0.15,"y":0.164}
]},
"columns": 4,
"facet": {"field": "r", "type": "nominal",
  "title": ["Share of 25-59 private sector employees with", "each degree type (log scale), 1997-2019 5yma"],
  "header": {"labelExpr": "''", "labelFontSize": 1, "labelPadding": 0, "titleOrient": "bottom", "titleAnchor": "middle", "titleFontSize": 26.4, "titleFontWeight": "normal", "titleColor": "#111", "titleLineHeight": 31, "titlePadding": 20}},
"spacing": {"row": 21, "column": 18},
"spec": {
  "width": 240,
  "height": 145,
  "layer": [
    {
      "mark": {"type": "line", "strokeWidth": 2},
      "encoding": {
        "x": {"field": "x", "type": "quantitative",
              "scale": {"type": "log", "domain": [0.00837, 0.479], "nice": false},
              "axis": {"values": [0.025, 0.05, 0.1, 0.2, 0.4], "labelExpr": "slice(format(datum.value, '~g'), 1)", "title": null, "labelPadding": 10}},
        "y": {"field": "y", "type": "quantitative",
              "scale": {"domain": [0.108, 0.636], "nice": false, "zero": false},
              "axis": {"values": [0.2, 0.4, 0.6], "labelExpr": "slice(format(datum.value, '.1f'), 1)", "title": null}},
        "color": {"field": "t", "type": "nominal",
                  "scale": {"domain": ["STEM", "LFM", "Other"], "range": ["#cc1a40", "#17701a", "#0a0af5"]},
                  "legend": {"title": null, "orient": "bottom", "direction": "horizontal", "symbolType": "stroke", "symbolStrokeWidth": 5, "symbolSize": 1520, "labelFontSize": 20, "labelColor": "#111", "labelOffset": 14, "columnPadding": 38, "offset": 26, "padding": 0}},
        "order": {"field": "i", "type": "quantitative"}
      }
    },
    {
      "mark": {"type": "point", "filled": true, "size": 8, "opacity": 1},
      "encoding": {
        "x": {"field": "x", "type": "quantitative"},
        "y": {"field": "y", "type": "quantitative"},
        "color": {"field": "t", "type": "nominal", "legend": null}
      }
    },
    {
      "transform": [
        {"joinaggregate": [{"op": "max", "field": "i", "as": "mi"}], "groupby": ["r", "t"]},
        {"filter": "datum.i == datum.mi"}
      ],
      "mark": {"type": "point", "shape": "M-1,-1L1,1M-1,1L1,-1", "filled": false, "size": 55, "strokeWidth": 2, "opacity": 1},
      "encoding": {
        "x": {"field": "x", "type": "quantitative"},
        "y": {"field": "y", "type": "quantitative"},
        "color": {"field": "t", "type": "nominal", "legend": null}
      }
    },
    {
      "transform": [{"aggregate": [{"op": "count", "as": "n"}], "groupby": ["r"]}],
      "layer": [
        {"mark": {"type": "rect", "color": "#d9e4ea"},
         "encoding": {"x": {"datum": 0.00837, "type": "quantitative"}, "x2": {"datum": 0.479}, "y": {"datum": 0.639, "type": "quantitative"}, "y2": {"datum": 0.716}}},
        {"mark": {"type": "text", "fontSize": 15, "color": "#222", "baseline": "middle", "align": "center"},
         "encoding": {"x": {"datum": 0.0633, "type": "quantitative"}, "y": {"datum": 0.678, "type": "quantitative"}, "text": {"field": "r", "type": "nominal"}}}
      ]
    }
  ]
}
}
